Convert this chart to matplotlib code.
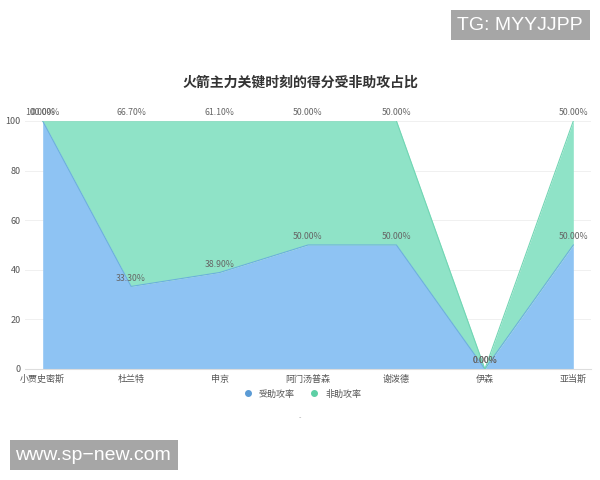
import numpy as np
import matplotlib
matplotlib.use("Agg")
import matplotlib.pyplot as plt
from matplotlib.lines import Line2D
from matplotlib.patches import Rectangle

plt.rcParams['font.family'] = ['Noto Sans CJK SC', 'DejaVu Sans']

players = ['小贾史密斯', '杜兰特', '申京', '阿门汤普森', '谢泼德', '伊森', '亚当斯']
assisted = [100.0, 33.3, 38.9, 50.0, 50.0, 0.0, 50.0]
unassisted = [0.0, 66.7, 61.1, 50.0, 50.0, 0.0, 50.0]
yticks = [0, 20, 40, 60, 80, 100]

blue_fill = '#8ec3f3'
green_fill = '#8fe3c7'
blue_dot = '#5b9bd5'
green_dot = '#5dcfa5'

fig = plt.figure(figsize=(6, 4.8), dpi=100)
ax = fig.add_axes([25 / 600, 1 - 369 / 480, 566 / 600, 248 / 480])

x = np.arange(len(players))
s1 = np.array(assisted)
s2 = s1 + np.array(unassisted)

ax.fill_between(x, 0, s1, color=blue_fill, linewidth=0, zorder=2)
ax.fill_between(x, s1, s2, color=green_fill, linewidth=0, zorder=2)
ax.plot(x, s1, color='#6cb0dc', linewidth=0.8, zorder=3)
ax.plot(x, s2, color='#72d6b4', linewidth=0.8, zorder=3)

for i in range(len(players)):
    ax.text(x[i], s1[i] + 1.5, f'{assisted[i]:.2f}%', ha='center', va='bottom',
            fontsize=6.3, color='#666666', zorder=4)
    ax.text(x[i], s2[i] + 1.5, f'{unassisted[i]:.2f}%', ha='center', va='bottom',
            fontsize=6.3, color='#666666', zorder=4)

ax.set_xlim(-0.2, len(players) - 0.8)
ax.set_ylim(0, 100)
ax.set_yticks(yticks)
ax.set_yticklabels([str(v) for v in yticks], fontsize=6.5, color='#555555')
ax.set_xticks(x)
ax.set_xticklabels(players, fontsize=6.5, color='#555555')
ax.tick_params(axis='both', length=0, pad=4)
ax.tick_params(axis='y', pad=3)
ax.grid(axis='y', color='#f0f0f0', linewidth=0.7, zorder=0)
for sp in ['top', 'right', 'left']:
    ax.spines[sp].set_visible(False)
ax.spines['bottom'].set_color('#dddddd')
ax.spines['bottom'].set_linewidth(0.8)

fig.text(0.5, 1 - 83 / 480, '火箭主力关键时刻的得分受非助攻占比', ha='center', va='center',
         fontsize=10, fontweight='bold', color='#333333')

handles = [
    Line2D([], [], marker='o', linestyle='none', markersize=4, color=blue_dot),
    Line2D([], [], marker='o', linestyle='none', markersize=4, color=green_dot),
]
fig.legend(handles, ['受助攻率', '非助攻率'], loc='center', bbox_to_anchor=(0.5, 1 - 394 / 480),
           ncol=2, frameon=False, fontsize=6.5, handletextpad=0.2, columnspacing=1.2,
           labelcolor='#555555')
fig.text(0.5, 1 - 418 / 480, '-', ha='center', va='center', fontsize=5, color='#999999')

# watermark boxes
fig.patches.append(Rectangle((451 / 600, 1 - 40 / 480), 139 / 600, 30 / 480,
                             transform=fig.transFigure, facecolor='#a6a6a6', edgecolor='none'))
fig.text(457 / 600, 1 - 25 / 480, 'TG: MYYJJPP', ha='left', va='center', fontsize=14,
         color='white', family='Liberation Sans')
fig.patches.append(Rectangle((10 / 600, 1 - 470 / 480), 168 / 600, 30 / 480,
                             transform=fig.transFigure, facecolor='#a6a6a6', edgecolor='none'))
fig.text(15 / 600, 1 - 455 / 480, 'www.sp\u2212new.com', ha='left', va='center', fontsize=14,
         color='white', family='Liberation Sans')

fig.savefig('out.png', dpi=100)
